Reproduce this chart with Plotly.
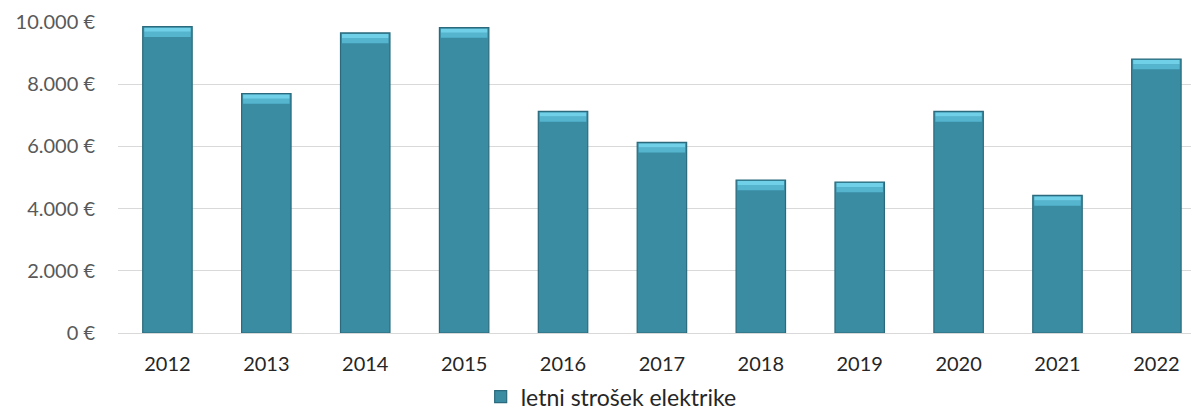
import plotly.graph_objects as go

# ---- data ----
years = ["2012", "2013", "2014", "2015", "2016", "2017", "2018", "2019", "2020", "2021", "2022"]
cost = [9850, 7700, 9650, 9820, 7125, 6130, 4920, 4855, 7125, 4425, 8810]
series_name = "letni strošek elektrike"
y_tick_values = [0, 2000, 4000, 6000, 8000, 10000]
y_tick_labels = ["0 €", "2.000 €", "4.000 €", "6.000 €", "8.000 €", "10.000 €"]

# ---- style ----
FONT = "Lato"
BAR = "#3A8CA3"
EDGE = "#2A6A7C"
BEVEL_LOW = "#55B5CF"
BEVEL_HIGH = "#70D0E8"
BEVEL = 330      # bevel depth in data units (~10 px)
TOP_GAP = 35     # leaves the bar's top outline visible

fig = go.Figure()
fig.add_trace(go.Bar(
    x=years, y=cost, name=series_name,
    marker=dict(color=BAR, line=dict(color=EDGE, width=1.2)),
))
fig.add_trace(go.Bar(
    x=years, y=[BEVEL / 2] * len(cost), base=[v - BEVEL for v in cost],
    width=0.47, marker=dict(color=BEVEL_LOW, line=dict(width=0)),
    showlegend=False, hoverinfo="skip",
))
fig.add_trace(go.Bar(
    x=years, y=[BEVEL / 2 - TOP_GAP] * len(cost), base=[v - BEVEL / 2 for v in cost],
    width=0.47, marker=dict(color=BEVEL_HIGH, line=dict(width=0)),
    showlegend=False, hoverinfo="skip",
))

fig.update_layout(
    width=1191, height=414,
    margin=dict(l=118, r=0, t=22, b=81, autoexpand=False),
    paper_bgcolor="white", plot_bgcolor="white",
    barmode="overlay", bargap=0.5,
    font=dict(family=FONT, size=20, color="#262626"),
    showlegend=True,
    legend=dict(
        orientation="h", x=0.338, xanchor="left",
        y=-0.205, yanchor="middle",
        font=dict(family=FONT, size=23, color="#262626"),
        itemwidth=30,
    ),
    xaxis=dict(
        type="category", range=[-0.5, 10.35],
        showgrid=False, showline=True, linecolor="#D9D9D9", linewidth=1,
        ticks="", ticklabelstandoff=13,
        tickfont=dict(family=FONT, size=20, color="#262626"),
    ),
    yaxis=dict(
        range=[0, 10000], tickvals=y_tick_values, ticktext=y_tick_labels,
        showgrid=True, gridcolor="#D9D9D9", gridwidth=1,
        zeroline=False, showline=False, ticks="",
        ticklabelstandoff=22,
        tickfont=dict(family=FONT, size=20, color="#595959"),
    ),
)

fig.write_html(
    "out.html",
    config={"displayModeBar": False},
    post_script="document.body.style.margin='0';document.body.style.overflow='hidden';",
)
